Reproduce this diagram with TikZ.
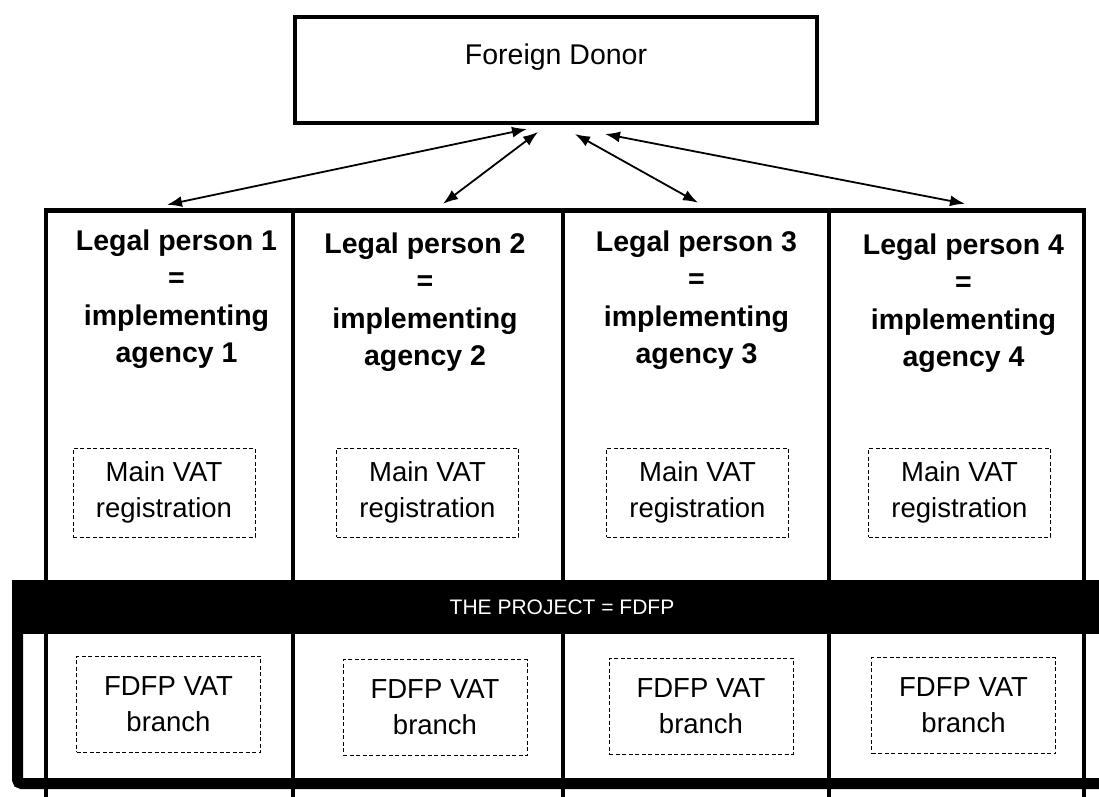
\documentclass[tikz,border=0pt]{standalone}
\usepackage{fontspec}
\setmainfont{Liberation Sans}
\usetikzlibrary{arrows.meta}
\tikzset{donorbox/.style={draw, line width=4pt, minimum width=522pt, minimum height=106pt, inner sep=0pt},
    colbox/.style={draw, line width=4.5pt, minimum height=600pt, inner sep=0pt},
    headtext/.style={align=center, inner sep=0pt, font=\bfseries\fontsize{28.5}{37.5}\selectfont},
    vatbox/.style={draw, line width=1pt, dash pattern=on 4pt off 2.5pt, align=center, inner sep=0pt,
        font=\fontsize{27.5}{36}\selectfont},
    projframe/.style={draw, line width=11pt, rounded corners=4pt, minimum width=1089pt, minimum height=198pt, inner sep=0pt},
    projbar/.style={fill=black, text=white, minimum width=1100pt, minimum height=54pt, inner sep=0pt,
        font=\fontsize{21}{25}\selectfont},
    link/.style={{Latex[length=15pt,width=11pt]}-{Latex[length=15pt,width=11pt]}, line width=1.8pt},
    }
\begin{document}
\begin{tikzpicture}[x=1pt,y=-1pt]
\useasboundingbox (0,0) rectangle (1099,796);
\clip (0,0) rectangle (1099,796);
\node[donorbox] (donor) at (556,70) {};
\node[anchor=base, inner sep=0pt, font=\fontsize{28.5}{34}\selectfont] (donorname) at ([yshift=-49pt]donor.north) {Foreign Donor};
% the four legal persons
\node[colbox, minimum width=247pt] (lp1) at (169.5,510.5) {};
\node[colbox, minimum width=270pt] (lp2) at (428,510.5) {};
\node[colbox, minimum width=266pt] (lp3) at (696,510.5) {};
\node[colbox, minimum width=255pt] (lp4) at (956.5,510.5) {};
\foreach \i/\dx/\dy in {1/7/-21, 2/-3/-24, 3/0.5/-22, 4/7/-25}
    \node[headtext, anchor=north] (name\i) at ([xshift=\dx pt, yshift=\dy pt]lp\i.north) {Legal person \i\\=\\implementing\\agency \i};
\foreach \i/\mx/\fx/\fy in {1/164/168.5/704, 2/427.5/435/707.5, 3/697.5/701/706, 4/959.5/963.5/705.5}{
    \node[vatbox, minimum width=182pt, minimum height=89pt] (main\i) at (\mx,492.5) {Main VAT\\registration};
    \node[vatbox, minimum width=184pt, minimum height=96pt] (branch\i) at (\fx,\fy) {FDFP VAT\\branch};
}
% the project
\node[projframe] (frame) at (562,684.5) {};
\node[projbar] (project) at (562,607) {THE PROJECT = FDFP};
\foreach \i/\a/\b/\c/\d in {1/-29/-4/-2.5/3.5, 2/-18/-7/15/4.5, 3/19/-9/2/5.5, 4/49/-9/8.5/4.5}
    \draw[link] ([xshift=\a pt, yshift=\b pt]donor.south) -- ([xshift=\c pt, yshift=\d pt]lp\i.north);
\end{tikzpicture}
\end{document}
